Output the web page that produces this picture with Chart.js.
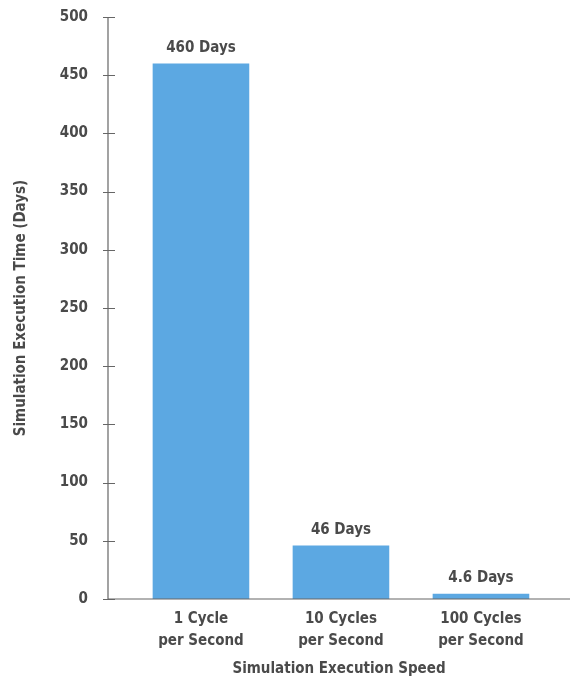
<!DOCTYPE html>
<html><head><meta charset="utf-8">
<script src="https://cdn.jsdelivr.net/npm/chart.js@4/dist/chart.umd.min.js"></script>
<style>html,body{margin:0;padding:0;background:#fff}#wrap{width:570px;height:680px}</style>
</head><body><div id="wrap"><canvas id="c" width="570" height="680"></canvas></div>
<script>
const categories = [["1 Cycle","per Second"],["10 Cycles","per Second"],["100 Cycles","per Second"]];
const positions = [1, 2, 3];
const values = [460, 46, 4.6];
const valueLabels = ["460 Days", "46 Days", "4.6 Days"];
const yTicks = [0, 50, 100, 150, 200, 250, 300, 350, 400, 450, 500];

const FONT = '"Liberation Sans Narrow", "DejaVu Sans", sans-serif';
const W = 'bold condensed';
const TXT = '#4a4a4a';
const AX = '#666666';

const labelPlugin = {
  id: 'lbl',
  afterDatasetsDraw(chart) {
    const ctx = chart.ctx;
    const meta = chart.getDatasetMeta(0);
    ctx.save();
    ctx.font = 'bold condensed 15px ' + FONT;
    ctx.fillStyle = TXT;
    ctx.textAlign = 'center';
    ctx.textBaseline = 'bottom';
    meta.data.forEach((bar, i) => {
      ctx.fillText(valueLabels[i], bar.x, bar.y - 8);
    });
    ctx.restore();
  }
};
const axisPlugin = {
  id: 'ax',
  afterDraw(chart) {
    const ctx = chart.ctx, y = chart.scales.y, a = chart.chartArea;
    ctx.save();
    ctx.strokeStyle = AX; ctx.lineWidth = 1.2;
    ctx.beginPath();
    ctx.moveTo(a.left, y.getPixelForValue(500)); ctx.lineTo(a.left, a.bottom);
    ctx.moveTo(a.left, a.bottom); ctx.lineTo(a.right, a.bottom);
    yTicks.forEach(v => {
      const p = Math.round(y.getPixelForValue(v)) + 0.5;
      ctx.moveTo(a.left - 5, p); ctx.lineTo(a.left + 7, p);
    });
    ctx.stroke();
    ctx.restore();
  }
};

new Chart(document.getElementById('c'), {
  type: 'bar',
  data: {
    datasets: [{
      data: positions.map((p, i) => ({x: p, y: values[i]})),
      backgroundColor: '#5ca8e2',
      borderWidth: 0,
      barPercentage: 0.69,
      categoryPercentage: 1
    }]
  },
  options: {
    responsive: false,
    animation: false,
    devicePixelRatio: 1,
    layout: {padding: {top: 17, right: 0, left: 0, bottom: 0}},
    plugins: {legend: {display: false}, tooltip: {enabled: false}},
    scales: {
      x: {
        type: 'linear',
        offset: false,
        min: 0.336, max: 3.636,
        afterBuildTicks(s) { s.ticks = positions.map(v => ({value: v})); },
        afterFit(s) { s.height = 81; s.paddingTop = 0; s.paddingBottom = 0; s.paddingLeft = 0; s.paddingRight = 0; },
        grid: {display: false, drawTicks: false},
        border: {display: false},
        ticks: {
          autoSkip: false, maxRotation: 0, padding: 9,
          font: {family: FONT, size: 15, weight: W, lineHeight: 1.45},
          color: TXT,
          callback(v) { const i = positions.indexOf(v); return i >= 0 ? categories[i] : ''; }
        },
        title: {
          display: true, text: 'Simulation Execution Speed',
          font: {family: FONT, size: 15, weight: W}, color: TXT,
          padding: {top: 2, bottom: 2}
        }
      },
      y: {
        min: 0, max: 500,
        afterBuildTicks(s) { s.ticks = yTicks.map(v => ({value: v})); },
        afterFit(s) { s.width = 108; s.paddingTop = 0; s.paddingBottom = 0; },
        grid: {display: false, drawTicks: false},
        border: {display: false},
        ticks: {
          padding: 20,
          font: {family: FONT, size: 15, weight: W}, color: TXT
        },
        title: {
          display: true, text: 'Simulation Execution Time (Days)',
          font: {family: FONT, size: 15, weight: W}, color: TXT,
          padding: {top: 12, bottom: 0}
        }
      }
    }
  },
  plugins: [labelPlugin, axisPlugin]
});
</script></body></html>
